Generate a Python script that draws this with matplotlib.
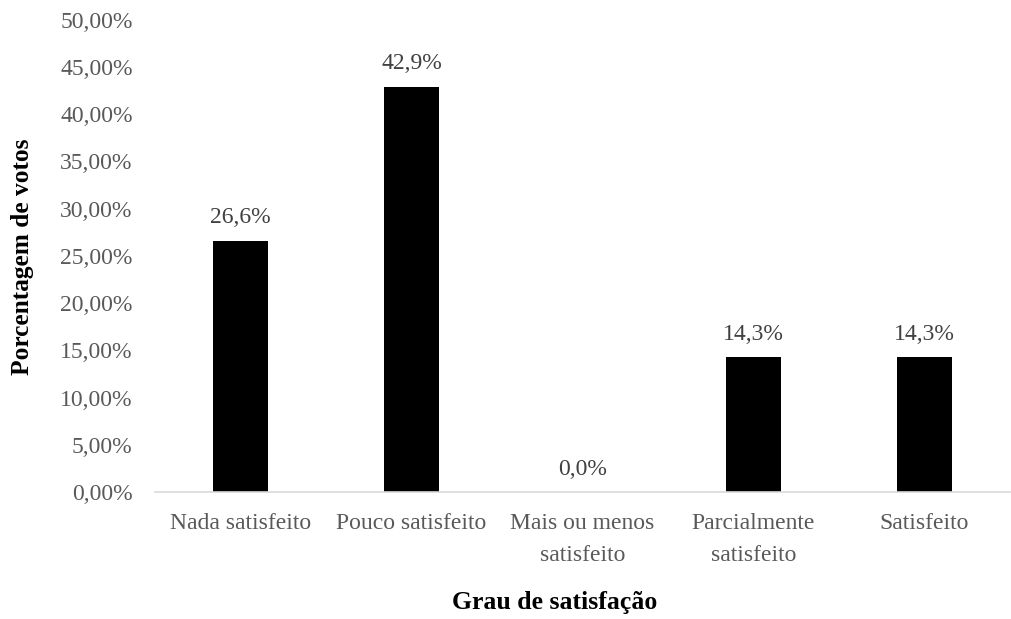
import matplotlib
matplotlib.use("Agg")
import matplotlib.pyplot as plt
from matplotlib.ticker import FuncFormatter

categories = ["Nada satisfeito", "Pouco satisfeito", "Mais ou menos\nsatisfeito",
              "Parcialmente\nsatisfeito", "Satisfeito"]
values = [26.6, 42.9, 0.0, 14.3, 14.3]
value_labels = ["26,6%", "42,9%", "0,0%", "14,3%", "14,3%"]

plt.rcParams["font.family"] = ["Liberation Serif", "DejaVu Serif"]

fig = plt.figure(figsize=(10.12, 6.19), dpi=100)
ax = fig.add_axes([0.153, 0.205, 0.845, 0.763])

x = range(len(categories))
bars = ax.bar(x, values, width=0.32, color="black")

for xi, v, lab in zip(x, values, value_labels):
    ax.annotate(lab, (xi, v), xytext=(0, 9), textcoords="offset points",
                ha="center", va="bottom", fontsize=17, color="#404040")

ax.set_xlim(-0.5, len(categories) - 0.5)
ax.set_ylim(0, 50)
ax.set_yticks([i * 5 for i in range(11)])
ax.yaxis.set_major_formatter(FuncFormatter(lambda v, p: f"{v:.2f}%".replace(".", ",")))
ax.set_xticks(list(x))
ax.set_xticklabels(categories, linespacing=1.7)

for s in ["top", "right", "left"]:
    ax.spines[s].set_visible(False)
ax.spines["bottom"].set_color("#d9d9d9")
ax.spines["bottom"].set_linewidth(1.2)

ax.tick_params(axis="y", length=0, labelsize=17, labelcolor="#595959", pad=16)
ax.tick_params(axis="x", length=0, labelsize=17, labelcolor="#595959", pad=15)

fig.text(0.022, 0.586, "Porcentagem de votos", rotation=90, ha="center", va="center",
         fontsize=18.3, fontweight="bold")
fig.text(0.548, 0.026, "Grau de satisfação", ha="center", va="center",
         fontsize=18.5, fontweight="bold")

fig.savefig("out.png", dpi=100)
